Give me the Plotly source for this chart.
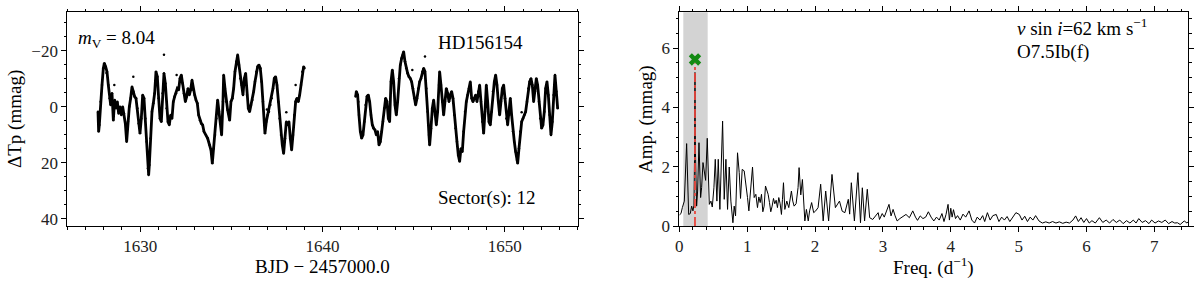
import plotly.graph_objects as go

# ---------------- data ----------------
# Light curve, orbit 1: (BJD - 2457000, delta Tp in mmag)
orbit1 = [
    (1627.684, 1.8), (1627.720, 8.9), (1627.757, 6.5), (1627.830, -1.8), (1627.903, -7.7),
    (1627.976, -13.7), (1628.031, -15.5), (1628.104, -14.3), (1628.178, -12.5), (1628.251, -7.7),
    (1628.324, -3.0), (1628.379, -0.6), (1628.452, -4.8), (1628.525, 4.8), (1628.598, -2.4),
    (1628.671, 0.6), (1628.744, -1.8), (1628.817, 2.4), (1628.891, 0.0), (1628.964, 3.0),
    (1629.037, 0.0), (1629.110, 2.4), (1629.183, 6.0), (1629.256, 12.5), (1629.329, 5.4),
    (1629.403, 0.0), (1629.476, -3.0), (1629.549, -7.1), (1629.622, -5.4), (1629.695, -3.6),
    (1629.768, -3.0), (1629.841, 0.6), (1629.915, 6.0), (1629.988, 9.5), (1630.061, 4.2),
    (1630.134, -4.2), (1630.207, -3.0), (1630.280, 4.2), (1630.353, 12.5), (1630.427, 22.0),
    (1630.463, 24.4), (1630.500, 20.8), (1630.573, 11.3), (1630.646, 1.8), (1630.719, -1.2),
    (1630.792, -4.8), (1630.865, -12.5), (1630.939, -10.7), (1631.012, -3.0), (1631.085, 4.2),
    (1631.158, 5.4), (1631.231, -4.8), (1631.304, -11.9), (1631.377, -8.3), (1631.451, 0.6),
    (1631.524, 5.4), (1631.597, 6.5), (1631.670, 3.0), (1631.743, 4.2), (1631.816, -1.8),
    (1631.889, -3.6), (1631.963, -4.8), (1632.036, -6.5), (1632.109, -6.0), (1632.182, -10.1),
    (1632.255, -11.3), (1632.328, -8.3), (1632.401, -4.8), (1632.475, -1.8), (1632.548, -3.6),
    (1632.621, -6.5), (1632.694, -4.2), (1632.767, -6.0), (1632.840, -9.5), (1632.913, -6.0),
    (1632.987, -4.2), (1633.060, -2.4), (1633.133, -1.2), (1633.206, 3.0), (1633.279, 4.8),
    (1633.352, 6.0), (1633.425, 6.5), (1633.498, 8.9), (1633.699, 11.3), (1633.809, 13.7),
    (1633.882, 15.5), (1633.955, 20.2), (1634.028, 14.9), (1634.102, 10.1), (1634.175, 4.2),
    (1634.248, -2.4), (1634.321, 1.8), (1634.394, 5.4), (1634.467, 10.1), (1634.540, -1.8),
    (1634.577, -11.3), (1634.650, -6.5), (1634.723, -1.8), (1634.796, 1.2), (1634.906, 4.8),
    (1634.979, -1.8), (1635.052, -3.0), (1635.125, -6.5), (1635.199, -12.5), (1635.272, -16.1),
    (1635.345, -18.5), (1635.418, -14.9), (1635.491, -10.1), (1635.564, -7.7), (1635.637, -4.2),
    (1635.711, -10.1), (1635.784, -11.9), (1635.857, -4.2), (1635.930, 0.6), (1636.003, 1.8),
    (1636.076, -0.6), (1636.149, -2.4), (1636.223, -5.4), (1636.296, -8.9), (1636.369, -12.5),
    (1636.442, -14.3), (1636.515, -14.9), (1636.588, -13.7), (1636.661, -8.9), (1636.735, -1.8),
    (1636.808, 6.5), (1636.844, 9.5), (1636.917, 5.4), (1636.991, 3.0), (1637.064, 1.8),
    (1637.137, -0.6), (1637.210, -3.0), (1637.283, -6.5), (1637.356, -10.1), (1637.429, -10.7),
    (1637.503, -7.7), (1637.576, -1.8), (1637.649, 4.2), (1637.722, 10.1), (1637.795, 13.7),
    (1637.868, 16.7), (1637.941, 11.3), (1638.015, 5.4), (1638.088, 6.5), (1638.161, 5.4),
    (1638.234, 11.3), (1638.307, 15.5), (1638.380, 10.1), (1638.453, 3.0), (1638.527, -1.8),
    (1638.600, -3.0), (1638.673, -1.8), (1638.746, -4.2), (1638.819, -7.7), (1638.892, -12.5),
    (1638.965, -14.3), (1639.002, -13.7),
]

# Light curve, orbit 2
orbit2 = [
    (1641.819, -3.6), (1641.855, -5.4), (1641.928, -4.2), (1641.965, -1.8), (1642.001, 3.0),
    (1642.075, 8.9), (1642.148, 11.3), (1642.221, 10.1), (1642.294, 5.4), (1642.367, -0.6),
    (1642.440, -3.6), (1642.513, -4.2), (1642.587, -1.8), (1642.660, 3.0), (1642.733, 6.5),
    (1642.806, 7.7), (1642.879, 8.3), (1642.952, 10.1), (1643.025, 8.9), (1643.099, 13.7),
    (1643.172, 12.5), (1643.245, 8.9), (1643.318, 5.4), (1643.391, 0.6), (1643.464, -3.0),
    (1643.537, -1.8), (1643.611, 4.2), (1643.684, 5.4), (1643.757, -8.9), (1643.830, -13.1),
    (1643.903, -8.9), (1643.976, -0.6), (1644.049, 3.0), (1644.122, -1.8), (1644.196, -10.1),
    (1644.269, -14.9), (1644.342, -17.3), (1644.415, -18.5), (1644.452, -19.6), (1644.525, -16.1),
    (1644.598, -13.7), (1644.671, -11.9), (1644.744, -10.7), (1644.817, -10.1), (1644.890, -8.9),
    (1644.964, -6.5), (1645.037, -3.0), (1645.110, -0.6), (1645.183, -3.0), (1645.256, -6.5),
    (1645.329, -8.9), (1645.402, -10.1), (1645.476, -12.5), (1645.549, -13.7), (1645.622, -12.5),
    (1645.695, -6.5), (1645.768, 1.8), (1645.841, 10.1), (1645.878, 13.7), (1645.951, 7.7),
    (1646.024, 0.6), (1646.097, -2.4), (1646.170, 3.0), (1646.244, 6.5), (1646.317, 1.8),
    (1646.390, -7.7), (1646.426, -12.5), (1646.499, -7.7), (1646.572, -1.8), (1646.646, 3.0),
    (1646.719, -1.8), (1646.792, -6.5), (1646.865, -4.8), (1646.938, -1.8), (1647.011, -4.2),
    (1647.085, -5.4), (1647.158, -3.0), (1647.231, 3.0), (1647.304, 7.7), (1647.377, 12.5),
    (1647.450, 17.3), (1647.523, 19.6), (1647.597, 14.9), (1647.670, 16.1), (1647.743, 8.9),
    (1647.817, 1.8), (1647.890, -1.8), (1647.963, -4.2), (1648.036, -6.5), (1648.109, -8.9),
    (1648.182, -3.0), (1648.255, -1.8), (1648.328, -3.0), (1648.402, -4.2), (1648.475, -1.8),
    (1648.548, -5.4), (1648.621, -7.7), (1648.694, -1.8), (1648.767, 5.4), (1648.840, 9.5),
    (1648.914, 1.8), (1648.987, -7.7), (1649.060, -1.8), (1649.133, 5.4), (1649.206, 6.5),
    (1649.279, 1.8), (1649.352, -5.4), (1649.426, -8.9), (1649.499, -11.3), (1649.572, -7.7),
    (1649.645, -1.8), (1649.718, 3.0), (1649.791, -1.8), (1649.864, -6.5), (1649.938, -7.7),
    (1650.011, -3.0), (1650.084, 4.2), (1650.157, 6.5), (1650.230, 1.8), (1650.303, -3.0),
    (1650.376, 3.0), (1650.450, 8.9), (1650.523, 12.5), (1650.596, 16.1), (1650.669, 19.0),
    (1650.706, 20.2), (1650.779, 14.9), (1650.852, 8.9), (1650.925, 5.4), (1650.998, 4.2),
    (1651.071, 3.0), (1651.144, 1.8), (1651.218, -1.8), (1651.291, -6.5), (1651.364, -8.9),
    (1651.437, -10.1), (1651.510, -7.7), (1651.583, -1.8), (1651.656, -5.4), (1651.730, -10.1),
    (1651.803, -7.7), (1651.876, -1.8), (1651.949, 4.2), (1652.022, 7.7), (1652.095, 6.5),
    (1652.168, 1.8), (1652.241, -6.5), (1652.315, -8.9), (1652.388, -4.2), (1652.461, 3.0),
    (1652.534, 10.1), (1652.607, 5.4), (1652.680, -4.2), (1652.753, -11.3), (1652.827, -5.4),
    (1652.900, 0.6),
]

# Isolated scattered points
outliers = [
    (1631.304, -18.5), (1631.999, -11.3), (1629.622, -10.7), (1628.580, -7.7),
    (1645.622, -17.9), (1644.927, -13.1), (1638.015, 2.0), (1638.527, -7.7),
    (1650.925, 2.0), (1628.150, -12.0), (1636.950, 1.0),
]

# Amplitude spectrum: (frequency d^-1, amplitude mmag)
spectrum = [
    (0.000, 0.37), (0.025, 0.42), (0.045, 0.62), (0.074, 0.84), (0.108, 2.78), (0.138, 0.39),
    (0.162, 0.42), (0.182, 0.67), (0.201, 0.51), (0.216, 0.70), (0.224, 2.20), (0.231, 5.18),
    (0.238, 2.50), (0.255, 0.67), (0.270, 1.18), (0.290, 2.81), (0.314, 0.96), (0.329, 1.30),
    (0.349, 2.14), (0.368, 1.80), (0.388, 1.54), (0.412, 2.96), (0.442, 0.73), (0.466, 0.84),
    (0.486, 0.64), (0.510, 1.29), (0.530, 2.25), (0.554, 0.84), (0.574, 2.25), (0.598, 0.56),
    (0.623, 2.19), (0.638, 3.54), (0.662, 0.90), (0.687, 2.25), (0.711, 0.56), (0.736, 1.99),
    (0.760, 0.84), (0.790, 0.11), (0.809, 0.67), (0.829, 0.34), (0.858, 2.47), (0.883, 1.80),
    (0.902, 0.93), (0.927, 1.91), (0.956, 1.86), (0.981, 1.46), (1.005, 0.96), (1.025, 0.51),
    (1.054, 1.18), (1.079, 1.99), (1.103, 0.96), (1.128, 1.07), (1.152, 0.62), (1.172, 0.98),
    (1.192, 0.79), (1.211, 1.07), (1.231, 0.48), (1.250, 0.67), (1.270, 1.35), (1.290, 1.20),
    (1.309, 1.07), (1.329, 0.79), (1.348, 0.48), (1.368, 0.67), (1.388, 0.93), (1.407, 0.75),
    (1.427, 0.87), (1.446, 0.62), (1.466, 0.96), (1.486, 0.75), (1.505, 0.39), (1.520, 0.90),
    (1.535, 1.46), (1.555, 0.56), (1.584, 0.84), (1.613, 0.62), (1.633, 0.90), (1.652, 1.18),
    (1.672, 0.84), (1.692, 0.67), (1.721, 0.75), (1.750, 1.30), (1.765, 1.97), (1.790, 1.05),
    (1.814, 1.57), (1.834, 0.67), (1.850, 0.17), (1.873, 0.56), (1.900, 0.17), (1.920, 0.51),
    (1.950, 0.79), (1.980, 0.45), (2.010, 0.51), (2.045, 0.62), (2.083, 1.41), (2.120, 0.17),
    (2.157, 1.18), (2.200, 0.17), (2.250, 1.74), (2.300, 0.62), (2.360, 0.84), (2.400, 0.50),
    (2.440, 0.45), (2.490, 0.90), (2.510, 0.40), (2.535, 1.46), (2.580, 0.17), (2.632, 1.80),
    (2.670, 0.11), (2.697, 1.29), (2.730, 0.17), (2.770, 1.24), (2.805, 0.28), (2.850, 0.22),
    (2.890, 0.34), (2.930, 0.45), (2.950, 0.22), (2.990, 0.42), (3.020, 0.30), (3.050, 0.51),
    (3.090, 0.73), (3.120, 0.34), (3.150, 0.56), (3.180, 0.34), (3.210, 0.17), (3.250, 0.25),
    (3.300, 0.34), (3.340, 0.39), (3.390, 0.28), (3.440, 0.51), (3.480, 0.30), (3.510, 0.19),
    (3.550, 0.34), (3.590, 0.25), (3.630, 0.30), (3.670, 0.48), (3.710, 0.30), (3.750, 0.17),
    (3.790, 0.30), (3.830, 0.20), (3.870, 0.42), (3.900, 0.15), (3.930, 0.39), (3.960, 0.73),
    (3.980, 0.20), (4.000, 0.60), (4.020, 0.30), (4.040, 0.55), (4.070, 0.25), (4.100, 0.35),
    (4.140, 0.20), (4.180, 0.40), (4.220, 0.30), (4.270, 0.51), (4.310, 0.20), (4.350, 0.10),
    (4.390, 0.30), (4.430, 0.20), (4.470, 0.35), (4.500, 0.15), (4.540, 0.45), (4.580, 0.20),
    (4.620, 0.35), (4.670, 0.39), (4.710, 0.15), (4.750, 0.30), (4.790, 0.20), (4.830, 0.32),
    (4.870, 0.15), (4.910, 0.30), (4.960, 0.45), (5.010, 0.39), (5.050, 0.20), (5.090, 0.33),
    (5.130, 0.15), (5.170, 0.30), (5.210, 0.20), (5.250, 0.35), (5.300, 0.17), (5.350, 0.10),
    (5.400, 0.14), (5.450, 0.10), (5.500, 0.15), (5.550, 0.10), (5.600, 0.14), (5.650, 0.09),
    (5.700, 0.13), (5.750, 0.10), (5.800, 0.20), (5.840, 0.34), (5.880, 0.15), (5.920, 0.28),
    (5.960, 0.12), (6.000, 0.25), (6.040, 0.10), (6.080, 0.18), (6.130, 0.10), (6.190, 0.28),
    (6.240, 0.12), (6.290, 0.20), (6.340, 0.10), (6.390, 0.22), (6.440, 0.12), (6.490, 0.20),
    (6.540, 0.08), (6.590, 0.18), (6.640, 0.10), (6.690, 0.20), (6.730, 0.10), (6.770, 0.25),
    (6.820, 0.12), (6.870, 0.18), (6.920, 0.08), (6.960, 0.20), (7.010, 0.10), (7.060, 0.17),
    (7.110, 0.12), (7.160, 0.20), (7.210, 0.08), (7.260, 0.15), (7.300, 0.10), (7.340, 0.11),
    (7.380, 0.05), (7.440, 0.17), (7.480, 0.10), (7.500, 0.15),
]

peak_freq = 0.231        # dominant frequency (d^-1)
peak_line_top = 5.48     # top of the dash-dot marker line (mmag)
peak_marker_amp = 5.62   # green cross (mmag)
window_lo, window_hi = 0.059, 0.418   # shaded frequency window (d^-1)

star_name = "HD156154"
mag_text = "<i>m</i><sub>V</sub> = 8.04"
sector_text = "Sector(s): 12"
vsini_text = "<i>v</i> sin <i>i</i>=62 km s<sup>−1</sup>"
sptype_text = "O7.5Ib(f)"

# ---------------- figure ----------------
t1, m1 = zip(*orbit1)
t2, m2 = zip(*orbit2)
to, mo = zip(*outliers)
fq, am = zip(*spectrum)

FONT = "Liberation Serif, Times New Roman, serif"
W, H = 1200, 282
def px(x):
    return x / W
def py(y):
    return 1 - y / H

fig = go.Figure()

for tt, mm in ((t1, m1), (t2, m2)):
    fig.add_trace(go.Scatter(x=tt, y=mm, mode="lines+markers", xaxis="x", yaxis="y",
                             line=dict(color="black", width=2.8),
                             marker=dict(color="black", size=2.5), hoverinfo="skip"))
fig.add_trace(go.Scatter(x=to, y=mo, mode="markers", xaxis="x", yaxis="y",
                         marker=dict(color="black", size=2.5), hoverinfo="skip"))

fig.add_trace(go.Scatter(x=fq, y=am, mode="lines", xaxis="x2", yaxis="y2",
                         line=dict(color="black", width=1), hoverinfo="skip"))
fig.add_trace(go.Scatter(x=[peak_freq, peak_freq], y=[0, peak_line_top], mode="lines",
                         xaxis="x2", yaxis="y2",
                         line=dict(color="#e8453c", width=1.8, dash="dashdot"), hoverinfo="skip"))
fig.add_trace(go.Scatter(x=[peak_freq], y=[peak_marker_amp], mode="markers",
                         xaxis="x2", yaxis="y2",
                         marker=dict(symbol="x", color="#138a13", size=11, line=dict(width=0)),
                         hoverinfo="skip"))

fig.add_shape(type="rect", xref="x2", yref="y2 domain", x0=window_lo, x1=window_hi,
              y0=0, y1=1, fillcolor="lightgray", line=dict(width=0), layer="below")

ydom = [py(226), py(12.3)]
def axis_common():
    return dict(showline=True, linecolor="black", linewidth=1, mirror="allticks",
                ticks="outside", ticklen=5, tickwidth=1, tickcolor="black",
                showgrid=False, zeroline=False, automargin=False,
                tickfont=dict(family=FONT, size=17, color="#222"))

def minor(d):
    return dict(dtick=d, ticklen=2.5, tickcolor="black", ticks="outside", showgrid=False)

fig.update_layout(
    template="none",
    width=W, height=H, margin=dict(l=0, r=0, t=0, b=0, pad=0, autoexpand=False),
    paper_bgcolor="white", plot_bgcolor="white", showlegend=False,
    font=dict(family=FONT, color="black", size=16),
    xaxis=dict(domain=[px(67.3), px(577.7)], range=[1626, 1654], dtick=10, tick0=1630,
               minor=minor(1), anchor="y", **axis_common()),
    yaxis=dict(domain=ydom, range=[42.6, -33.7], dtick=20, tick0=0,
               minor=minor(5), anchor="x", **axis_common()),
    xaxis2=dict(domain=[px(679.3), px(1188.3)], range=[0, 7.5], dtick=1, tick0=0,
                minor=minor(0.2), anchor="y2", **axis_common()),
    yaxis2=dict(domain=ydom, range=[0, 7.21], dtick=2, tick0=0,
                minor=minor(0.5), anchor="x2", **axis_common()),
)

ann = []
def text(x, y, s, size=19, xanchor="left", angle=0):
    ann.append(dict(x=x, y=y, xref="paper", yref="paper", text=s, showarrow=False,
                    xanchor=xanchor, yanchor="middle", textangle=angle, borderpad=0,
                    font=dict(family=FONT, size=size, color="black")))

text(px(77), py(39), mag_text)
text(px(437), py(42), star_name)
text(px(437), py(198), sector_text)
text(px(1016), py(27), vsini_text)
text(px(1016), py(52), sptype_text)
text(px(322.5), py(266), "BJD − 2457000.0", xanchor="center")
text(px(15), py(119), "ΔTp (mmag)", xanchor="center", angle=-90)
text(px(933.8), py(266), "Freq. (d<sup>−1</sup>)", xanchor="center")
text(px(646), py(119), "Amp. (mmag)", xanchor="center", angle=-90)
fig.update_layout(annotations=ann)

fig.write_html(
    "out.html",
    config={"displayModeBar": False, "staticPlot": True},
    post_script="document.body.style.margin='0';document.body.style.padding='0';"
                "document.documentElement.style.overflow='hidden';",
)
